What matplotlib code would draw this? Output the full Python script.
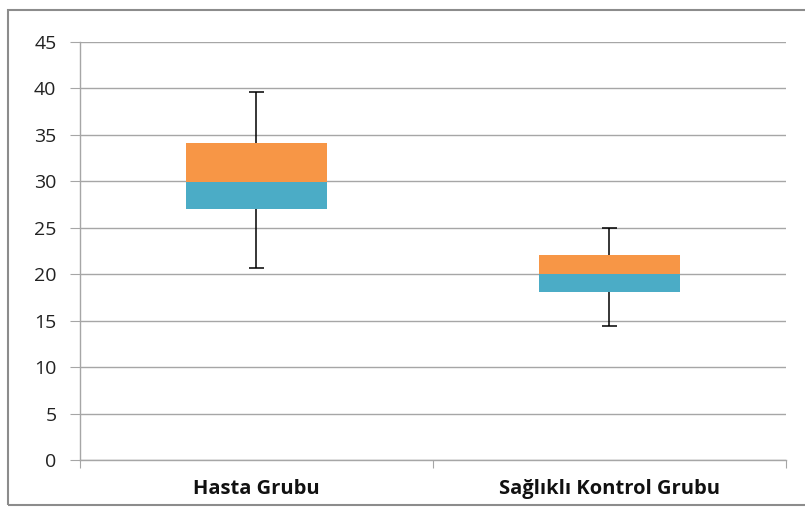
import numpy as np
import matplotlib
matplotlib.use("Agg")
from matplotlib import pyplot as plt
from matplotlib.patches import Rectangle

# box plot values
groups = ["Hasta Grubu", "Sağlıklı Kontrol Grubu"]
mins = [20.7, 14.4]
q1 = [27.0, 18.1]
medians = [29.9, 20.0]
q3 = [34.1, 22.1]
maxs = [39.6, 25.0]

blue = "#4BACC6"
orange = "#F79646"
grid = "#A6A6A6"

fig = plt.figure(figsize=(8.05, 5.09), dpi=100)
ax = fig.add_axes([80/805, 49/509, 705.5/805, 418/509])

x = np.arange(len(groups))
q1 = np.array(q1); med = np.array(medians); q3 = np.array(q3)
lo = med - np.array(mins)
hi = np.array(maxs) - med

ax.errorbar(x, med, yerr=[lo, hi], fmt="none", ecolor="black", elinewidth=1.1,
            capsize=5.4, capthick=1.1, zorder=2)
ax.bar(x, med - q1, bottom=q1, width=0.4, color=blue, zorder=3)
ax.bar(x, q3 - med, bottom=med, width=0.4, color=orange, zorder=3)

ax.set_xlim(-0.5, 1.5)
ax.set_ylim(0, 45)
ax.set_yticks(np.arange(0, 50, 5))
ax.yaxis.grid(True, color=grid, linewidth=1)
ax.set_axisbelow(True)

ax.set_xticks([-0.5, 0.5, 1.5])
ax.set_xticklabels([])
ax.set_xticks(x, minor=True)
ax.set_xticklabels(groups, minor=True, fontweight="bold", fontsize=14.5,
                   fontfamily="Open Sans", color="#111111")
ax.tick_params(axis="x", which="minor", length=0, pad=14)
ax.tick_params(axis="x", which="major", length=6, color=grid, direction="out")
ax.tick_params(axis="y", length=7, color=grid, direction="out", pad=10,
               labelsize=14, labelcolor="#222222")
for lab in ax.get_yticklabels():
    lab.set_fontfamily("Open Sans")

for s in ["top", "right"]:
    ax.spines[s].set_visible(False)
for s in ["left", "bottom"]:
    ax.spines[s].set_color(grid)
    ax.spines[s].set_linewidth(1)

# outer chart frame
fig.patches.append(Rectangle((8/805, 4/509), 805/805, 495/509, transform=fig.transFigure,
                             fill=False, edgecolor="#8C8C8C", linewidth=1.5))

fig.savefig("out.png", dpi=100)
